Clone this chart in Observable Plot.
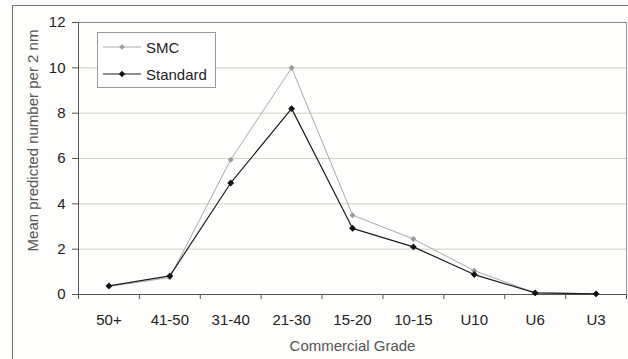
<!DOCTYPE html>
<html>
<head>
<meta charset="utf-8">
<script src="https://cdn.jsdelivr.net/npm/d3@7"></script>
<script src="https://cdn.jsdelivr.net/npm/@observablehq/plot@0.6"></script>
<style>
  html, body { margin: 0; padding: 0; background: #fdfdfb; }
  #wrap { position: relative; width: 628px; height: 359px; overflow: hidden; font-family: "Liberation Sans", Arial, sans-serif; }
  #border { position: absolute; left: 12px; top: 5px; width: 640px; height: 400px; border-left: 1.5px solid #6f6f6f; border-top: 1.5px solid #6f6f6f; pointer-events: none; }
  #legend { position: absolute; left: 97px; top: 32px; width: 117px; height: 54px; background: #fff; border: 1px solid #9a9a9a; }
  .row { position: absolute; left: 5px; height: 20px; display: flex; align-items: center; font-size: 15px; color: #222; }
  .row svg { margin-right: 5px; }
</style>
</head>
<body>
<div id="wrap">
  <div id="chart"></div>
  <div id="border"></div>
  <div id="legend"></div>
</div>
<script>
// Commercial grade categories along the x axis
const categories = ["50+", "41-50", "31-40", "21-30", "15-20", "10-15", "U10", "U6", "U3"];
// Mean predicted number per 2 nm for each model
const smc = [0.35, 0.75, 5.95, 10.0, 3.5, 2.45, 1.05, 0.07, 0.03];
const standard = [0.38, 0.82, 4.92, 8.2, 2.92, 2.1, 0.88, 0.07, 0.03];
const seriesNames = ["SMC", "Standard"];
const yTicks = [0, 2, 4, 6, 8, 10, 12];

const yTitle = "Mean predicted number per 2 nm";
const xTitle = "Commercial Grade";

const colors = {SMC: {line: "#a9a9a9", dot: "#9c9c9c", r: 2.7, w: 1}, Standard: {line: "#1e1e1e", dot: "#111", r: 3.1, w: 1.2}};

// Long table: category index placed at the middle of its slot
const rows = [];
[smc, standard].forEach((vals, s) => {
  vals.forEach((v, i) => rows.push({pos: i + 0.5, grade: categories[i], series: seriesNames[s], value: v}));
});

const lineMarks = seriesNames.flatMap(name => {
  const data = rows.filter(d => d.series === name);
  const c = colors[name];
  return [
    Plot.line(data, {x: "pos", y: "value", stroke: c.line, strokeWidth: c.w}),
    Plot.dot(data, {x: "pos", y: "value", symbol: "diamond2", r: c.r, fill: c.dot, stroke: "none"})
  ];
});

const chart = Plot.plot({
  width: 628,
  height: 359,
  marginLeft: 78,
  marginRight: 2,
  marginTop: 22,
  marginBottom: 65,
  style: {fontFamily: "'Liberation Sans', Arial, sans-serif", fontSize: "15px", background: "transparent", color: "#222"},
  x: {domain: [0, categories.length], range: [78, 626]},
  y: {domain: [0, 12]},
  marks: [
    Plot.frame({fill: "#fefefc", stroke: "none"}),
    Plot.gridY(yTicks.slice(1, -1), {stroke: "#cfcfc2", strokeOpacity: 1}),
    Plot.ruleY([12], {stroke: "#8a8a8a"}),
    Plot.ruleX([categories.length], {stroke: "#9a9a9a"}),
    Plot.ruleX([0], {stroke: "#555"}),
    Plot.ruleY([0], {stroke: "#555"}),
    Plot.axisY(yTicks, {tickSize: 6, tickPadding: 7, label: null, stroke: "#555", fill: "#222"}),
    Plot.axisX(d3.range(categories.length + 1), {tickSize: 5, tickFormat: () => "", label: null, stroke: "#555"}),
    Plot.axisX(categories.map((_, i) => i + 0.5), {tickSize: 0, tickPadding: 20, label: null, fill: "#222",
      tickFormat: d => categories[Math.floor(d)]}),
    Plot.text([xTitle], {frameAnchor: "bottom", lineAnchor: "middle", dy: 52, fill: "#555", fontSize: 15}),
    Plot.text([yTitle], {frameAnchor: "left", lineAnchor: "middle", textAnchor: "middle", rotate: -90, dx: -45, dy: -18, fill: "#555", fontSize: 15}),
    ...lineMarks
  ]
});
document.getElementById("chart").appendChild(chart);

// Legend box with sample line + marker for each series
const legend = document.getElementById("legend");
seriesNames.forEach((name, k) => {
  const c = colors[name];
  const row = document.createElement("div");
  row.className = "row";
  row.style.top = (4 + k * 27) + "px";
  row.innerHTML =
    `<svg width="38" height="12"><line x1="0" x2="38" y1="6" y2="6" stroke="${c.line}" stroke-width="${c.w}"/>` +
    `<rect x="${19 - c.r}" y="${6 - c.r}" width="${c.r * 2 * 0.72}" height="${c.r * 2 * 0.72}" fill="${c.dot}" transform="rotate(45 19 6) translate(${c.r*0.28} ${c.r*0.28})"/></svg>` +
    `<span>${name}</span>`;
  legend.appendChild(row);
});
</script>
</body>
</html>
